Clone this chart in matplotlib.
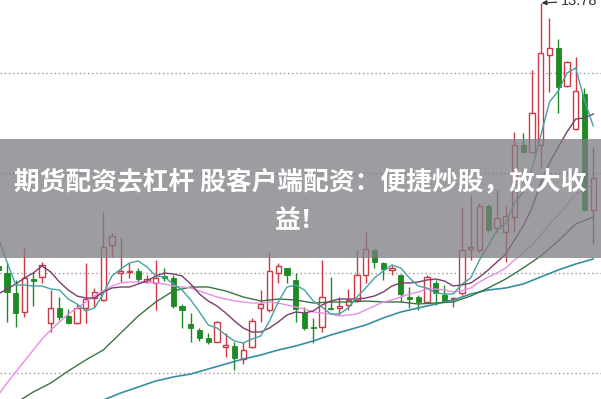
import matplotlib.pyplot as plt
from matplotlib.patches import Rectangle

# daily candles (price units)
opens = [11.15, 11.08, 10.88, 10.69, 11.02, 11.04, 10.58, 10.73, 10.65, 10.58,
         10.73, 10.83, 10.81, 11.36, 11.08, 11.09, 11.10, 10.99, 10.98, 11.05,
         11.03, 10.75, 10.57, 10.51, 10.43, 10.39, 10.34, 10.35, 10.22, 10.34,
         10.73, 10.71, 11.08, 11.13, 11.01, 10.68, 10.54, 10.54, 10.73, 10.73,
         10.76, 10.81, 11.06, 11.31, 11.18, 11.11, 11.06, 10.84, 10.84, 10.79,
         10.98, 10.86, 10.82, 10.88, 11.32, 11.31, 11.75, 11.53, 11.49, 11.64,
         12.36, 12.29, 12.36, 13.26, 13.33, 12.95, 12.52, 12.87, 11.71]
highs = [11.17, 11.19, 11.01, 11.33, 11.09, 11.19, 10.91, 10.84, 10.72, 10.77,
         11.18, 10.93, 11.69, 11.48, 11.44, 11.18, 11.13, 11.06, 11.21, 11.13,
         11.06, 10.77, 10.68, 10.53, 10.48, 10.60, 10.48, 10.39, 10.39, 10.63,
         10.91, 11.29, 11.18, 11.13, 11.08, 10.74, 10.63, 11.21, 11.04, 10.84,
         10.92, 11.31, 11.49, 11.32, 11.19, 11.16, 11.07, 10.94, 10.86, 11.06,
         11.01, 10.96, 10.84, 11.74, 11.86, 11.78, 11.77, 11.91, 11.76, 12.49,
         12.48, 13.11, 13.78, 13.63, 13.42, 13.20, 13.24, 12.93, 12.34]
lows = [11.09, 10.59, 10.54, 10.64, 10.75, 10.98, 10.49, 10.61, 10.57, 10.57,
        10.58, 10.74, 10.80, 11.24, 10.99, 11.03, 10.99, 10.98, 10.71, 11.00,
        10.73, 10.53, 10.39, 10.40, 10.37, 10.39, 10.24, 10.11, 10.17, 10.33,
        10.59, 10.69, 10.98, 10.98, 10.59, 10.51, 10.38, 10.49, 10.71, 10.66,
        10.71, 10.79, 10.98, 11.13, 11.01, 11.06, 10.79, 10.73, 10.71, 10.78,
        10.76, 10.79, 10.74, 10.86, 11.21, 11.29, 11.49, 11.48, 11.19, 11.49,
        12.28, 12.28, 12.13, 12.89, 12.68, 12.94, 12.51, 11.70, 11.37]
closes = [11.11, 10.89, 10.68, 11.03, 11.00, 11.16, 10.73, 10.64, 10.58, 10.73,
          10.82, 10.89, 11.34, 11.45, 11.10, 11.10, 11.02, 11.02, 11.03, 11.03,
          10.75, 10.71, 10.53, 10.43, 10.39, 10.59, 10.36, 10.23, 10.31, 10.60,
          10.77, 11.10, 11.15, 11.06, 10.72, 10.53, 10.53, 10.84, 10.72, 10.75,
          10.81, 11.06, 11.32, 11.19, 11.12, 11.13, 10.87, 10.82, 10.79, 11.04,
          10.88, 10.80, 10.83, 11.31, 11.34, 11.75, 11.51, 11.63, 11.65, 12.36,
          12.29, 12.68, 13.28, 13.33, 12.94, 13.19, 12.90, 11.71, 12.03]

# moving average lines as drawn in the picture
ma5 = [11.43, 11.19, 10.96, 10.96, 10.95, 10.95, 10.92, 10.91, 10.82, 10.77,
       10.70, 10.73, 10.87, 11.05, 11.12, 11.18, 11.20, 11.14, 11.05, 11.04,
       10.97, 10.91, 10.81, 10.69, 10.56, 10.53, 10.46, 10.40, 10.38, 10.42,
       10.45, 10.60, 10.79, 10.94, 10.96, 10.91, 10.80, 10.74, 10.67, 10.67,
       10.73, 10.84, 10.93, 11.03, 11.10, 11.16, 11.13, 11.03, 10.95, 10.93,
       10.88, 10.87, 10.87, 10.97, 11.03, 11.21, 11.35, 11.51, 11.58, 11.78,
       11.89, 12.12, 12.45, 12.79, 12.90, 13.08, 13.13, 12.81, 12.55]
ma10 = [10.87, 10.92, 10.97, 11.03, 11.08, 11.15, 11.09, 10.99, 10.91, 10.85,
        10.83, 10.83, 10.89, 10.93, 10.94, 10.94, 10.97, 11.00, 11.05, 11.08,
        11.07, 11.05, 10.97, 10.87, 10.80, 10.75, 10.68, 10.60, 10.53, 10.49,
        10.49, 10.53, 10.59, 10.66, 10.69, 10.68, 10.70, 10.76, 10.80, 10.82,
        10.82, 10.82, 10.83, 10.85, 10.89, 10.95, 10.98, 10.98, 10.99, 11.01,
        11.02, 11.00, 10.95, 10.96, 10.98, 11.04, 11.11, 11.19, 11.27, 11.41,
        11.55, 11.73, 11.98, 12.18, 12.34, 12.49, 12.62, 12.63, 12.67]
ma20 = [9.86, 9.98, 10.09, 10.20, 10.31, 10.42, 10.51, 10.59, 10.67, 10.73,
        10.79, 10.85, 10.90, 10.95, 10.98, 10.99, 10.99, 10.99, 10.98, 10.97,
        10.95, 10.94, 10.93, 10.90, 10.87, 10.84, 10.82, 10.80, 10.79, 10.78,
        10.78, 10.79, 10.78, 10.76, 10.74, 10.72, 10.69, 10.68, 10.67, 10.65,
        10.66, 10.67, 10.71, 10.75, 10.79, 10.81, 10.84, 10.87, 10.89, 10.92,
        10.92, 10.91, 10.89, 10.90, 10.93, 10.99, 11.04, 11.08, 11.13, 11.21,
        11.28, 11.36, 11.46, 11.57, 11.66, 11.76, 11.87, 11.91, 11.97]
ma30_days = list(range(2, 69, 2))
ma30 = [9.78, 9.89, 9.98, 10.10, 10.21, 10.31, 10.48, 10.65, 10.79, 10.90,
        10.94, 10.94, 10.90, 10.84, 10.80, 10.82, 10.81, 10.78, 10.79, 10.79,
        10.80, 10.79, 10.79, 10.77, 10.78, 10.79, 10.85, 10.93, 11.02, 11.13,
        11.25, 11.40, 11.57, 11.64]
ma60_days = list(range(10, 69, 2))
ma60 = [9.75, 9.81, 9.88, 9.94, 10.00, 10.04, 10.07, 10.12, 10.17, 10.22,
        10.26, 10.31, 10.35, 10.40, 10.46, 10.51, 10.56, 10.63, 10.69, 10.73,
        10.77, 10.81, 10.87, 10.91, 10.93, 10.97, 11.04, 11.11, 11.17, 11.22]

grid_levels = [13.08, 12.08, 11.08, 10.08]
peak_label = '13.78'
title_lines = ['期货配资去杠杆 股客户端配资：便捷炒股，放大收', '益！']

red = '#cc3a46'
green = '#1d8a24'

fig = plt.figure(figsize=(6.01, 3.99), dpi=100)
ax = fig.add_axes([0, 0, 1, 1])
ax.axis('off')
ax.set_xlim(0.2, 68.89)
ax.set_ylim(9.82, 13.81)

for lv in grid_levels:
    ax.axhline(lv, color='#9a9a9a', lw=1, linestyle=(0, (1, 2)), zorder=1)

days = range(len(opens))
for i, o, h, l, c in zip(days, opens, highs, lows, closes):
    col = red if c >= o else green
    ax.vlines(i, l, h, color=col, lw=1, zorder=2)
    bottom = min(o, c)
    height = max(abs(c - o), 0.006)
    if c >= o:
        ax.bar(i, height, 0.62, bottom, facecolor='white', edgecolor=col,
               lw=1, zorder=3)
    else:
        ax.bar(i, height, 0.62, bottom, color=col, edgecolor=col, lw=0.6,
               zorder=3)

ax.plot(ma60_days, ma60, color='#3590a0', lw=1.2, zorder=4)
ax.plot(ma30_days, ma30, color='#3b7440', lw=1.0, zorder=4)
ax.plot(days, ma20, color='#e68ee6', lw=1.0, zorder=4)
ax.plot(days, ma10, color='#7a3c6c', lw=1.0, zorder=4)
ax.plot(days, ma5, color='#45a2a2', lw=1.0, zorder=4)

ax.annotate(peak_label, xy=(62.1, 13.78), xytext=(64.3, 13.80),
            ha='left', va='center', fontsize=10.5, color='#333333',
            family='Liberation Sans',
            arrowprops=dict(arrowstyle='-|>', color='#333333', lw=0.9,
                            shrinkA=1, shrinkB=0, mutation_scale=7))

# banner across the middle
fig.add_artist(Rectangle((0, 141 / 399), 1, 119 / 399, transform=fig.transFigure,
                         facecolor='#7d7d82', alpha=0.75, edgecolor='none',
                         zorder=5))
fig.text(0.5, 216 / 399, title_lines[0], ha='center', va='center',
         color='white', fontsize=18.5, fontweight='bold',
         family=['Noto Sans CJK SC', 'DejaVu Sans'], zorder=6)
fig.text(0.5, 178 / 399, title_lines[1], ha='center', va='center',
         color='white', fontsize=18.5, fontweight='bold',
         family=['Noto Sans CJK SC', 'DejaVu Sans'], zorder=6)

fig.savefig('out.png', dpi=100)
